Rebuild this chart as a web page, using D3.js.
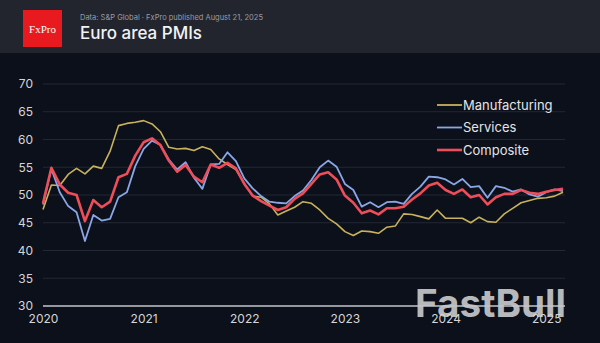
<!DOCTYPE html>
<html>
<head>
<meta charset="utf-8">
<script src="https://cdn.jsdelivr.net/npm/d3@7"></script>
<style>
  body { margin: 0; background: #0c101a; }
  svg { display: block; font-family: Inter, Roboto, sans-serif; }
</style>
</head>
<body>
<script>
// monthly PMI readings, Jun 2020 .. Aug 2025
var months = [];
var start = new Date(2020, 5, 1);
for (var i = 0; i < 63; i++) months.push(d3.timeMonth.offset(start, i));

var manufacturing = [47.4, 51.8, 51.7, 53.7, 54.8, 53.8, 55.2,
  54.8, 57.9, 62.5, 62.9, 63.1, 63.4, 62.8, 61.4, 58.6, 58.3, 58.4, 58.0,
  58.7, 58.2, 56.5, 55.5, 54.6, 52.1, 49.8, 49.6, 48.4, 46.4, 47.1, 47.8,
  48.8, 48.5, 47.3, 45.8, 44.8, 43.4, 42.7, 43.5, 43.4, 43.1, 44.2, 44.4,
  46.6, 46.5, 46.1, 45.7, 47.3, 45.8, 45.8, 45.8, 45.0, 46.0, 45.2, 45.1,
  46.6, 47.6, 48.6, 49.0, 49.4, 49.5, 49.8, 50.5];
var services = [48.3, 54.7, 50.5, 48.0, 46.9, 41.7, 46.4,
  45.4, 45.7, 49.6, 50.5, 55.2, 58.3, 59.8, 59.0, 56.4, 54.6, 55.9, 53.1,
  51.1, 55.5, 55.6, 57.7, 56.1, 53.0, 51.2, 49.8, 48.8, 48.6, 48.5, 49.8,
  50.8, 52.7, 55.0, 56.2, 55.1, 52.0, 50.9, 47.9, 48.7, 47.8, 48.7, 48.8,
  48.4, 50.2, 51.5, 53.3, 53.2, 52.8, 51.9, 52.9, 51.4, 51.6, 49.5, 51.6,
  51.3, 50.6, 51.0, 50.1, 49.7, 50.5, 51.0, 50.7];
var composite = [48.5, 54.9, 51.9, 50.4, 50.0, 45.3, 49.1,
  47.8, 48.8, 53.2, 53.8, 57.1, 59.5, 60.2, 59.0, 56.2, 54.2, 55.4, 53.3,
  52.3, 55.5, 54.9, 55.8, 54.8, 52.0, 49.9, 48.9, 48.1, 47.3, 47.8, 49.3,
  50.3, 52.0, 53.7, 54.1, 52.8, 49.9, 48.6, 46.7, 47.2, 46.5, 47.6, 47.6,
  47.9, 49.2, 50.3, 51.7, 52.2, 50.9, 50.2, 51.0, 49.6, 50.0, 48.3, 49.6,
  50.2, 50.2, 50.9, 50.4, 50.2, 50.6, 50.9, 51.1];

var seriesNames = ["Manufacturing", "Services", "Composite"];
var seriesColors = ["#c8b25c", "#8aa6e6", "#ee4d5a"];
var yTicks = [30, 35, 40, 45, 50, 55, 60, 65, 70];
var xTickIndex = [0, 12, 24, 36, 48, 60];
var xTickLabels = ["2020", "2021", "2022", "2023", "2024", "2025"];

var width = 600, height = 343;
var margin = { top: 84, right: 37, bottom: 37, left: 43 };

var svg = d3.select("body").append("svg")
  .attr("width", width)
  .attr("height", height);

svg.append("rect").attr("width", width).attr("height", height).attr("fill", "#0c101a");

// header band
svg.append("rect").attr("width", width).attr("height", 53).attr("fill", "#22252e");
svg.append("rect").attr("x", 23).attr("y", 10).attr("width", 39).attr("height", 37).attr("fill", "#e81a1f");
svg.append("text").attr("x", 42.5).attr("y", 33)
  .attr("text-anchor", "middle")
  .attr("font-family", "'Liberation Serif', 'DejaVu Serif', serif")
  .attr("font-size", 11)
  .attr("fill", "#fff")
  .text("FxPro");
svg.append("text").attr("x", 80).attr("y", 20)
  .attr("font-size", 7.5)
  .attr("fill", "#9a9ca3")
  .text("Data: S&P Global · FxPro published August 21, 2025");
svg.append("text").attr("x", 80).attr("y", 39)
  .attr("font-size", 17)
  .attr("font-weight", 500)
  .attr("fill", "#f2f2f2")
  .text("Euro area PMIs");

var x = d3.scaleLinear()
  .domain([0, months.length - 1])
  .range([margin.left, width - margin.right]);
var y = d3.scaleLinear()
  .domain([30, 70])
  .range([height - margin.bottom, margin.top]);

// gridlines
svg.append("g").selectAll("line")
  .data(yTicks.slice(1))
  .enter().append("line")
  .attr("x1", x(0)).attr("x2", x(months.length - 1) + 2)
  .attr("y1", d => y(d)).attr("y2", d => y(d))
  .attr("stroke", "#232734").attr("stroke-width", 1);

// watermark sits under the baseline and the year labels
svg.append("text").attr("x", 415).attr("y", 317)
  .attr("font-size", 38)
  .attr("font-weight", 700)
  .attr("textLength", 151)
  .attr("lengthAdjust", "spacingAndGlyphs")
  .attr("fill", "#cfd0d4")
  .attr("fill-opacity", 0.88)
  .text("FastBull");

// y labels
var yAxis = svg.append("g")
  .attr("transform", `translate(${margin.left - 10},0)`)
  .call(d3.axisLeft(y).tickValues(yTicks).tickSize(0).tickPadding(0));
yAxis.select(".domain").remove();
yAxis.selectAll("text").attr("font-size", 12).attr("fill", "#d6d6d8").attr("font-family", "Inter, Roboto, sans-serif");

// base line at 30
svg.append("line")
  .attr("x1", x(0)).attr("x2", x(months.length - 1) + 2)
  .attr("y1", y(30)).attr("y2", y(30))
  .attr("stroke", "#c4c6cc").attr("stroke-width", 1.5);

// x labels
var xAxis = svg.append("g")
  .attr("transform", `translate(0,${y(30) + 8})`)
  .call(d3.axisBottom(x).tickValues(xTickIndex).tickFormat((d, i) => xTickLabels[i]).tickSize(0).tickPadding(0));
xAxis.select(".domain").remove();
xAxis.selectAll("text").attr("font-size", 12).attr("fill", "#d6d6d8").attr("font-family", "Inter, Roboto, sans-serif");

var line = d3.line()
  .x((d, i) => x(i))
  .y(d => y(d));

var allSeries = [manufacturing, services, composite];
var widths = [1.6, 1.8, 2.6];
allSeries.forEach(function (s, k) {
  svg.append("path")
    .datum(s)
    .attr("fill", "none")
    .attr("stroke", seriesColors[k])
    .attr("stroke-width", widths[k])
    .attr("stroke-linejoin", "round")
    .attr("d", line);
});

// legend
var legend = svg.append("g").attr("transform", "translate(437,105)");
seriesNames.forEach(function (name, k) {
  var g = legend.append("g").attr("transform", `translate(0,${k * 22.5})`);
  g.append("line").attr("x1", 0).attr("x2", 25).attr("y1", 0).attr("y2", 0)
    .attr("stroke", seriesColors[k]).attr("stroke-width", k == 2 ? 2.6 : 1.8);
  g.append("text").attr("x", 26).attr("y", 4.5)
    .attr("font-size", 13).attr("fill", "#e4e4e6")
    .text(name);
});
</script>
</body>
</html>
